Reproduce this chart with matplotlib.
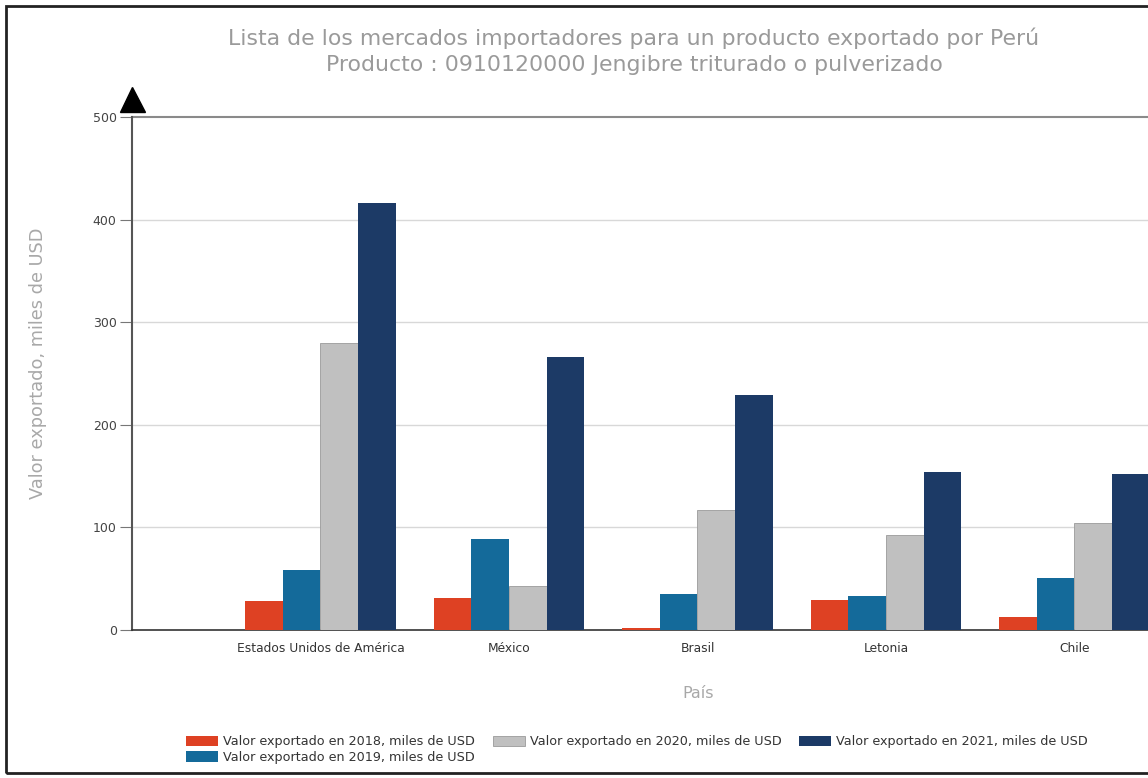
import matplotlib
matplotlib.use("Agg")
import matplotlib.pyplot as plt
import numpy as np
from matplotlib.patches import Rectangle

countries = ["Estados Unidos de América", "México", "Brasil", "Letonia", "Chile"]
v2018 = [28, 31, 2, 29, 13]
v2019 = [58, 89, 35, 33, 51]
v2020 = [280, 43, 117, 93, 104]
v2021 = [416, 266, 229, 154, 152]
series_labels = ["Valor exportado en 2018, miles de USD",
                 "Valor exportado en 2019, miles de USD",
                 "Valor exportado en 2020, miles de USD",
                 "Valor exportado en 2021, miles de USD"]
yticks = [0, 100, 200, 300, 400, 500]
title = ("Lista de los mercados importadores para un producto exportado por Perú\n"
         "Producto : 0910120000 Jengibre triturado o pulverizado")

colors = ["#DE4123", "#146A9A", "#C0C0C0", "#1C3A66"]
edges = ["#DE4123", "#146A9A", "#9a9a9a", "#1C3A66"]

plt.rcParams['font.family'] = ['DejaVu Sans']
fig = plt.figure(figsize=(11.48, 7.78), dpi=100)
ax = fig.add_axes([132/1148, 148/778, 1 - 132/1148, (661-148)/778])

x = np.arange(len(countries))
w = 0.2
handles = []
for i, vals in enumerate([v2018, v2019, v2020, v2021]):
    b = ax.bar(x + (i - 1.5) * w, vals, width=w, color=colors[i],
               edgecolor=edges[i] if i == 2 else colors[i], linewidth=0.6 if i == 2 else 0,
               label=series_labels[i], zorder=3)
    handles.append(b)

ax.set_xlim(-1.0, 4.39)
ax.set_ylim(0, 500)
ax.set_yticks(yticks)
ax.set_xticks(x)
ax.set_xticklabels(countries, fontsize=8.8, color="#333333")
ax.tick_params(axis='x', length=0, pad=9)
ax.tick_params(axis='y', length=9, pad=2, color="#777777", labelsize=9, labelcolor="#444444")
for t in [100, 200, 300, 400]:
    ax.axhline(t, color="#d8d8d8", linewidth=1, zorder=1)
ax.axhline(500, color="#8a8a8a", linewidth=1.5, zorder=1, clip_on=False)
for s in ["top", "right"]:
    ax.spines[s].set_visible(False)
ax.spines["left"].set_color("#555555")
ax.spines["left"].set_linewidth(1.5)
ax.spines["bottom"].set_color("#333333")
ax.spines["bottom"].set_linewidth(1.2)
ax.spines["left"].set_bounds(0, 500)
ax.plot([0], [1.035], marker='^', markersize=18, color='black',
        transform=ax.transAxes, clip_on=False, zorder=5)

ax.set_ylabel("Valor exportado, miles de USD", fontsize=12.8, color="#a8a8a8")
ax.set_xlabel("País", fontsize=11.5, color="#a8a8a8")
ax.xaxis.set_label_coords((698-132)/(1148-132), -(693-630)/513)
ax.yaxis.set_label_coords(-(132-38)/1016, 0.52)
ax.yaxis.label.set_va('center')
ax.xaxis.label.set_va('center')

fig.text(634/1148, 1 - 51/778, title, ha='center', va='center', fontsize=15.8,
         color="#9a9a9a", linespacing=1.38)

fig.legend(handles=handles, loc='upper left', bbox_to_anchor=(180/1148, 1 - 729/778),
           ncol=3, frameon=False, fontsize=9.2, handlelength=2.5, handleheight=0.9,
           columnspacing=1.35, handletextpad=0.4, labelspacing=0.22, borderpad=0,
           labelcolor="#333333")

fig.patches.append(Rectangle((6/1148, 5/778), 1.2, 1 - 11/778, transform=fig.transFigure,
                             fill=False, edgecolor="#222222", linewidth=2))

fig.savefig("out.png", dpi=100)
